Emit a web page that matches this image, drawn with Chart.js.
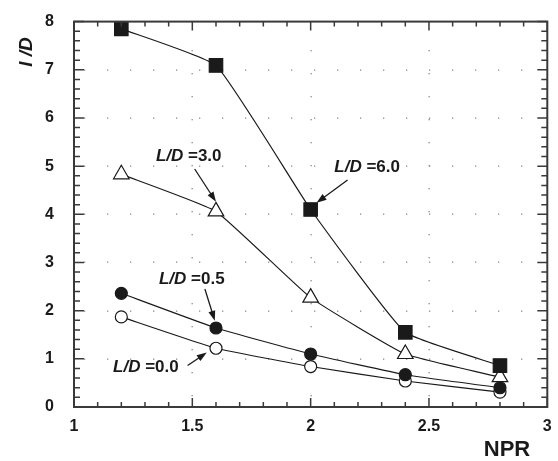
<!DOCTYPE html>
<html lang="en">
<head>
  <meta charset="UTF-8">
  <title>l/D vs NPR</title>
  <script src="https://cdn.jsdelivr.net/npm/chart.js@4.4.1/dist/chart.umd.min.js"></script>
  <style>
    body { margin: 0; padding: 0; background: #fff; }
  </style>
</head>
<body>
  <canvas id="chart" width="558" height="461"></canvas>

  <script>
    // data
    const npr = [1.2, 1.6, 2.0, 2.4, 2.8];
    const ld00 = [1.87, 1.22, 0.84, 0.54, 0.31];
    const ld05 = [2.36, 1.64, 1.10, 0.67, 0.40];
    const ld30 = [4.83, 4.06, 2.27, 1.10, 0.62];
    const ld60 = [7.85, 7.09, 4.10, 1.55, 0.86];
    const xTicks = [1, 1.5, 2, 2.5, 3];
    const yTicks = [0, 1, 2, 3, 4, 5, 6, 7, 8];

    // callout labels (data coords)
    const callouts = [
      { val: "=3.0", tx: 1.346, ty: 5.21, fx: 1.51, fy: 4.94, ax: 1.60, ay: 4.26 },
      { val: "=6.0", tx: 2.10, ty: 4.98, fx: 2.156, fy: 4.71, ax: 2.025, ay: 4.24 },
      { val: "=0.5", tx: 1.359, ty: 2.65, fx: 1.553, fy: 2.45, ax: 1.595, ay: 1.79 },
      { val: "=0.0", tx: 1.165, ty: 0.82, fx: 1.48, fy: 0.86, ax: 1.561, ay: 1.13 }
    ];

    const ink = "#1a1a1a";
    const axisCol = "#3a3a3a";

    function pts(ys) {
      return npr.map((x, i) => ({ x: x, y: ys[i] }));
    }

    function series(ys, style, radius, fill) {
      return {
        data: pts(ys),
        borderColor: ink,
        borderWidth: 1.2,
        tension: 0.12,
        pointStyle: style,
        pointRadius: radius,
        pointBorderWidth: 1.2,
        pointBorderColor: ink,
        pointBackgroundColor: fill,
        fill: false
      };
    }

    // sparse dotted grid, drawn under the data
    const dots = {
      id: "dots",
      beforeDatasetsDraw(chart) {
        const ctx = chart.ctx;
        const xs = chart.scales.x, ys = chart.scales.y;
        const a = chart.chartArea;
        ctx.save();
        ctx.fillStyle = "#8c8c8c";
        xTicks.slice(1, -1).forEach(v => {
          const px = Math.round(xs.getPixelForValue(v));
          for (let py = a.bottom - 12; py > a.top + 10; py -= 23) ctx.fillRect(px - 0.5, py, 1.3, 1.3);
        });
        yTicks.slice(1, -1).forEach(v => {
          const py = Math.round(ys.getPixelForValue(v));
          for (let px = a.left + 10; px < a.right - 8; px += 23) ctx.fillRect(px, py - 0.5, 1.3, 1.3);
        });
        ctx.restore();
      }
    };

    const frame = {
      id: "frame",
      afterDatasetsDraw(chart) {
        const ctx = chart.ctx;
        const xs = chart.scales.x, ys = chart.scales.y;
        const a = chart.chartArea;
        ctx.save();
        ctx.strokeStyle = axisCol;
        ctx.lineWidth = 2;
        ctx.strokeRect(a.left, a.top, a.right - a.left, a.bottom - a.top);

        // tick marks on all four sides, pointing in
        ctx.lineWidth = 1.5;
        ctx.beginPath();
        for (let i = 0; i <= 20; i++) {
          const v = 1 + i * 0.1;
          const px = xs.getPixelForValue(v);
          const len = (i % 5 === 0) ? 9 : 5;
          ctx.moveTo(px, a.bottom); ctx.lineTo(px, a.bottom - len);
          ctx.moveTo(px, a.top); ctx.lineTo(px, a.top + len);
        }
        for (let i = 0; i <= 40; i++) {
          const v = i * 0.2;
          const py = ys.getPixelForValue(v);
          const len = (i % 5 === 0) ? 10 : 6;
          ctx.moveTo(a.left, py); ctx.lineTo(a.left + len, py);
          ctx.moveTo(a.right, py); ctx.lineTo(a.right - len, py);
        }
        ctx.stroke();

        // callouts
        ctx.fillStyle = ink;
        ctx.strokeStyle = ink;
        ctx.textBaseline = "middle";
        ctx.textAlign = "left";
        callouts.forEach(c => {
          const tx = xs.getPixelForValue(c.tx), ty = ys.getPixelForValue(c.ty);
          ctx.font = "italic bold 17px 'Liberation Sans', Arial, sans-serif";
          ctx.fillText("L/D", tx, ty);
          const w = ctx.measureText("L/D ").width;
          ctx.font = "bold 17px 'Liberation Sans', Arial, sans-serif";
          ctx.fillText(c.val, tx + w, ty);

          const x1 = xs.getPixelForValue(c.fx), y1 = ys.getPixelForValue(c.fy);
          const x2 = xs.getPixelForValue(c.ax), y2 = ys.getPixelForValue(c.ay);
          const ang = Math.atan2(y2 - y1, x2 - x1);
          ctx.lineWidth = 1.3;
          ctx.beginPath();
          ctx.moveTo(x1, y1);
          ctx.lineTo(x2 - 6 * Math.cos(ang), y2 - 6 * Math.sin(ang));
          ctx.stroke();
          ctx.beginPath();
          ctx.moveTo(x2, y2);
          ctx.lineTo(x2 - 10 * Math.cos(ang) + 3.5 * Math.sin(ang), y2 - 10 * Math.sin(ang) - 3.5 * Math.cos(ang));
          ctx.lineTo(x2 - 10 * Math.cos(ang) - 3.5 * Math.sin(ang), y2 - 10 * Math.sin(ang) + 3.5 * Math.cos(ang));
          ctx.closePath();
          ctx.fill();
        });

        // axis titles
        ctx.font = "bold 22px 'Liberation Sans', Arial, sans-serif";
        ctx.textAlign = "center";
        ctx.fillText("NPR", 507, 450);

        ctx.translate(27, 52);
        ctx.rotate(-Math.PI / 2);
        ctx.font = "italic bold 19px 'Liberation Sans', Arial, sans-serif";
        ctx.fillText("l /D", 0, 0);
        ctx.restore();
      }
    };

    const tickFont = { family: "'Liberation Sans', Arial, sans-serif", size: 16, weight: "bold" };

    new Chart(document.getElementById("chart"), {
      type: "line",
      data: {
        datasets: [
          series(ld60, "rect", 9.5, ink),
          series(ld30, "triangle", 9, "#fff"),
          series(ld05, "circle", 6, ink),
          series(ld00, "circle", 6, "#fff")
        ]
      },
      options: {
        responsive: false,
        animation: false,
        layout: { padding: { top: 17, right: 10, left: 0, bottom: 0 } },
        plugins: { legend: { display: false }, tooltip: { enabled: false } },
        scales: {
          x: {
            type: "linear",
            min: 1, max: 3,
            afterBuildTicks: s => { s.ticks = xTicks.map(v => ({ value: v })); },
            afterFit: s => { s.height = 54; },
            grid: { display: false },
            border: { display: false },
            ticks: {
              color: ink, font: tickFont, padding: 2, maxRotation: 0,
              callback: v => String(v)
            }
          },
          y: {
            min: 0, max: 8,
            afterBuildTicks: s => { s.ticks = yTicks.map(v => ({ value: v })); },
            afterFit: s => { s.width = 74; },
            grid: { display: false },
            border: { display: false },
            ticks: { color: ink, font: tickFont, padding: 12 }
          }
        }
      },
      plugins: [dots, frame]
    });
  </script>
</body>
</html>
